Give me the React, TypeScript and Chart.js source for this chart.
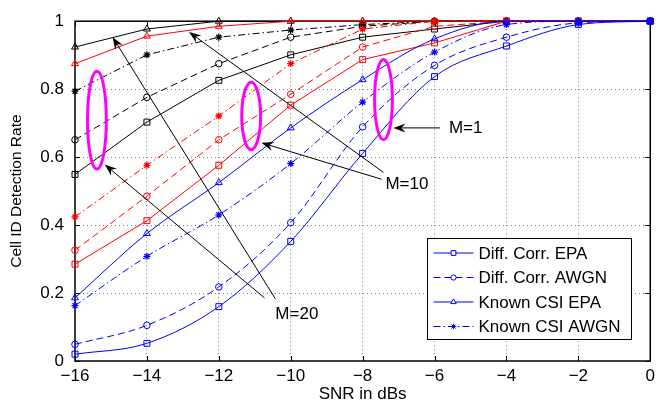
import React, { useEffect, useRef } from 'react';
import { Chart, registerables } from 'chart.js';
Chart.register(...registerables);

const snr = [-16, -14, -12, -10, -8, -6, -4, -2, 0];

const m1DiffEPA = [0.02, 0.052, 0.16, 0.352, 0.611, 0.837, 0.927, 0.99, 1];
const m1DiffAWGN = [0.049, 0.105, 0.218, 0.407, 0.689, 0.87, 0.953, 0.995, 1];
const m1KnownEPA = [0.186, 0.375, 0.525, 0.686, 0.828, 0.948, 1, 1, 1];
const m1KnownAWGN = [0.163, 0.308, 0.43, 0.581, 0.762, 0.909, 0.99, 1, 1];

const m10DiffEPA = [0.285, 0.413, 0.576, 0.753, 0.887, 0.936, 1, 1, 1];
const m10DiffAWGN = [0.326, 0.485, 0.651, 0.785, 0.924, 0.985, 1, 1, 1];
const m10KnownEPA = [0.875, 0.956, 0.985, 1, 1, 1, 1, 1, 1];
const m10KnownAWGN = [0.424, 0.576, 0.721, 0.875, 0.977, 1, 1, 1, 1];

const m20DiffEPA = [0.549, 0.703, 0.826, 0.901, 0.953, 0.977, 1, 1, 1];
const m20DiffAWGN = [0.651, 0.776, 0.875, 0.953, 0.985, 1, 1, 1, 1];
const m20KnownEPA = [0.924, 0.977, 1, 1, 1, 1, 1, 1, 1];
const m20KnownAWGN = [0.794, 0.901, 0.953, 0.974, 0.99, 1, 1, 1, 1];

const legendLabels = ['Diff. Corr. EPA', 'Diff. Corr. AWGN', 'Known CSI EPA', 'Known CSI AWGN'];

// annotations in data coordinates
const ellipses = [
  { x: -15.39, y: 0.709, rx: 0.262, ry: 0.144 },
  { x: -11.1, y: 0.721, rx: 0.262, ry: 0.099 },
  { x: -7.42, y: 0.769, rx: 0.248, ry: 0.118 },
];
const arrows = [
  { x1: -5.848, y1: 0.686, x2: -7.145, y2: 0.686 },
  { x1: -7.421, y1: 0.555, x2: -12.828, y2: 0.968 },
  { x1: -7.476, y1: 0.535, x2: -10.814, y2: 0.642 },
  { x1: -10.731, y1: 0.186, x2: -15.172, y2: 0.578 },
  { x1: -10.428, y1: 0.183, x2: -14.952, y2: 0.953 },
];
const notes = [
  { text: 'M=1', x: -5.6, y: 0.686 },
  { text: 'M=10', x: -7.366, y: 0.52 },
  { text: 'M=20', x: -10.428, y: 0.137 },
];

const FONT = "'Liberation Sans', Arial, sans-serif";
const DASHED = [7, 4];
const DASHDOT = [7, 3, 1.5, 3];

const styles = [
  { dash: [] as number[], marker: 'rect', r: 4.2 },
  { dash: DASHED, marker: 'circle', r: 3.3 },
  { dash: [] as number[], marker: 'triangle', r: 4 },
  { dash: DASHDOT, marker: 'star', r: 3.5 },
];

function makeDatasets() {
  const groups = [
    { color: '#0000ff', smooth: true, series: [m1DiffEPA, m1DiffAWGN, m1KnownEPA, m1KnownAWGN], name: 'M=1' },
    { color: '#ff0000', smooth: false, series: [m10DiffEPA, m10DiffAWGN, m10KnownEPA, m10KnownAWGN], name: 'M=10' },
    { color: '#000000', smooth: false, series: [m20DiffEPA, m20DiffAWGN, m20KnownEPA, m20KnownAWGN], name: 'M=20' },
  ];
  const ds: any[] = [];
  groups.forEach((g) => {
    g.series.forEach((vals, i) => {
      const st = styles[i];
      ds.push({
        label: g.name + ' ' + legendLabels[i],
        data: snr.map((x, k) => ({ x, y: vals[k] })),
        borderColor: g.color,
        backgroundColor: g.color,
        borderWidth: 1,
        borderDash: st.dash,
        pointStyle: st.marker,
        pointRadius: st.r,
        pointBorderColor: g.color,
        pointBackgroundColor: st.marker === 'star' ? g.color : 'rgba(0,0,0,0)',
        pointBorderWidth: st.marker === 'star' ? 1.3 : 1,
        cubicInterpolationMode: g.smooth ? 'monotone' : 'default',
        tension: 0,
        clip: false,
      });
    });
  });
  return ds;
}

const framePlugin = {
  id: 'frame',
  beforeDatasetsDraw(chart: any) {
    const { ctx, chartArea: a, scales } = chart;
    ctx.save();
    ctx.strokeStyle = '#000';
    ctx.lineWidth = 1;
    const tl = 5;
    ctx.beginPath();
    scales.x.ticks.forEach((t: any) => {
      const px = Math.round(scales.x.getPixelForValue(t.value)) + 0.5;
      ctx.moveTo(px, a.bottom); ctx.lineTo(px, a.bottom - tl);
      ctx.moveTo(px, a.top); ctx.lineTo(px, a.top + tl);
    });
    scales.y.ticks.forEach((t: any) => {
      const py = Math.round(scales.y.getPixelForValue(t.value)) + 0.5;
      ctx.moveTo(a.left, py); ctx.lineTo(a.left + tl, py);
      ctx.moveTo(a.right, py); ctx.lineTo(a.right - tl, py);
    });
    ctx.stroke();
    ctx.lineWidth = 1.5;
    ctx.strokeRect(a.left, a.top, a.right - a.left, a.bottom - a.top);
    ctx.restore();
  },
};

function drawArrow(ctx: CanvasRenderingContext2D, x1: number, y1: number, x2: number, y2: number) {
  const ang = Math.atan2(y2 - y1, x2 - x1);
  const L = 12, W = 4.5, N = 8;
  const cx = Math.cos(ang), sy = Math.sin(ang);
  ctx.beginPath();
  ctx.moveTo(x1, y1);
  ctx.lineTo(x2 - cx * N, y2 - sy * N);
  ctx.stroke();
  ctx.beginPath();
  ctx.moveTo(x2, y2);
  ctx.lineTo(x2 - cx * L - sy * W, y2 - sy * L + cx * W);
  ctx.lineTo(x2 - cx * N, y2 - sy * N);
  ctx.lineTo(x2 - cx * L + sy * W, y2 - sy * L - cx * W);
  ctx.closePath();
  ctx.fill();
}

function drawMarker(ctx: CanvasRenderingContext2D, style: string, r: number, x: number, y: number) {
  ctx.beginPath();
  if (style === 'rect') {
    const s = r * Math.SQRT1_2;
    ctx.rect(x - s, y - s, 2 * s, 2 * s);
    ctx.fillStyle = '#fff';
    ctx.fill();
    ctx.stroke();
  } else if (style === 'circle') {
    ctx.arc(x, y, r, 0, Math.PI * 2);
    ctx.fillStyle = '#fff';
    ctx.fill();
    ctx.stroke();
  } else if (style === 'triangle') {
    ctx.moveTo(x, y - r);
    ctx.lineTo(x - r * 0.866, y + r * 0.5);
    ctx.lineTo(x + r * 0.866, y + r * 0.5);
    ctx.closePath();
    ctx.fillStyle = '#fff';
    ctx.fill();
    ctx.stroke();
  } else {
    for (let k = 0; k < 4; k++) {
      const an = (k * Math.PI) / 4;
      ctx.moveTo(x - Math.cos(an) * r, y - Math.sin(an) * r);
      ctx.lineTo(x + Math.cos(an) * r, y + Math.sin(an) * r);
    }
    ctx.stroke();
  }
}

const annotPlugin = {
  id: 'annot',
  afterDatasetsDraw(chart: any) {
    const { ctx, scales, chartArea: a } = chart;
    const X = (v: number) => scales.x.getPixelForValue(v);
    const Y = (v: number) => scales.y.getPixelForValue(v);
    ctx.save();
    ctx.strokeStyle = '#ff00ff';
    ctx.lineWidth = 3;
    ellipses.forEach((e) => {
      const cx = X(e.x), cy = Y(e.y);
      const rx = Math.abs(X(e.x + e.rx) - cx), ry = Math.abs(Y(e.y + e.ry) - cy);
      ctx.beginPath();
      ctx.ellipse(cx, cy, rx, ry, 0, 0, Math.PI * 2);
      ctx.stroke();
    });
    ctx.strokeStyle = '#000';
    ctx.fillStyle = '#000';
    ctx.lineWidth = 1;
    arrows.forEach((r) => drawArrow(ctx, X(r.x1), Y(r.y1), X(r.x2), Y(r.y2)));
    ctx.font = '17px ' + FONT;
    ctx.textAlign = 'left';
    ctx.textBaseline = 'middle';
    notes.forEach((n) => ctx.fillText(n.text, X(n.x), Y(n.y)));

    // legend
    const bw = 204, bh = 101;
    const bx = Math.round(a.right - 19 - bw) + 0.5;
    const by = Math.round(a.bottom - 22 - bh) + 0.5;
    ctx.fillStyle = '#fff';
    ctx.fillRect(bx, by, bw, bh);
    ctx.strokeStyle = '#000';
    ctx.lineWidth = 1;
    ctx.strokeRect(bx, by, bw, bh);
    legendLabels.forEach((lab, i) => {
      const st = styles[i];
      const yy = by + 14.5 + i * 24.5;
      ctx.strokeStyle = '#0000ff';
      ctx.lineWidth = 1;
      ctx.setLineDash(st.dash);
      ctx.beginPath();
      ctx.moveTo(bx + 6, yy);
      ctx.lineTo(bx + 46, yy);
      ctx.stroke();
      ctx.setLineDash([]);
      drawMarker(ctx, st.marker, st.r * 0.8, bx + 26, yy);
      ctx.fillStyle = '#000';
      ctx.font = '17px ' + FONT;
      ctx.fillText(lab, bx + 51, yy + 1);
    });
    ctx.restore();
  },
};

export default function App() {
  const ref = useRef<HTMLCanvasElement | null>(null);
  useEffect(() => {
    document.body.style.margin = '0';
    if (!ref.current) return;
    const chart = new Chart(ref.current, {
      type: 'line',
      data: { datasets: makeDatasets() },
      options: {
        animation: false,
        responsive: true,
        maintainAspectRatio: false,
        layout: { padding: { top: 17, right: 5, bottom: 0, left: 0 } },
        plugins: { legend: { display: false }, tooltip: { enabled: false } },
        scales: {
          x: {
            type: 'linear',
            min: -16,
            max: 0,
            afterFit: (s: any) => { s.height = 45; },
            ticks: {
              stepSize: 2,
              padding: 5,
              color: '#000',
              font: { family: FONT, size: 17 },
              callback: (v: any) => (Number(v) < 0 ? '\u2212' + Math.abs(Number(v)) : String(v)),
            },
            grid: {
              drawTicks: false,
              color: (c: any) => (c.tick && (c.tick.value === -16 || c.tick.value === 0) ? 'rgba(0,0,0,0)' : 'rgba(0,0,0,0.5)'),
              lineWidth: 1,
            },
            border: { display: false, dash: [1, 3] },
            title: {
              display: true,
              text: 'SNR in dBs',
              color: '#000',
              font: { family: FONT, size: 17 },
              padding: { top: 0, bottom: 1 },
            },
          },
          y: {
            type: 'linear',
            min: 0,
            max: 1,
            afterFit: (s: any) => { s.width = 75; },
            ticks: {
              stepSize: 0.2,
              padding: 11,
              color: '#000',
              font: { family: FONT, size: 17 },
              callback: (v: any) => String(Number(Number(v).toFixed(1))),
            },
            grid: {
              drawTicks: false,
              color: (c: any) => (c.tick && (c.tick.value <= 0.001 || c.tick.value >= 0.999) ? 'rgba(0,0,0,0)' : 'rgba(0,0,0,0.5)'),
              lineWidth: 1,
            },
            border: { display: false, dash: [1, 3] },
            title: {
              display: true,
              text: 'Cell ID Detection Rate',
              color: '#000',
              font: { family: FONT, size: 15.5 },
              padding: { top: 7, bottom: 0 },
            },
          },
        },
      } as any,
      plugins: [framePlugin, annotPlugin],
    });
    return () => chart.destroy();
  }, []);
  return (
    <div style={{ position: 'absolute', left: 0, top: 0, width: 660, height: 406 }}>
      <canvas ref={ref} />
    </div>
  );
}
